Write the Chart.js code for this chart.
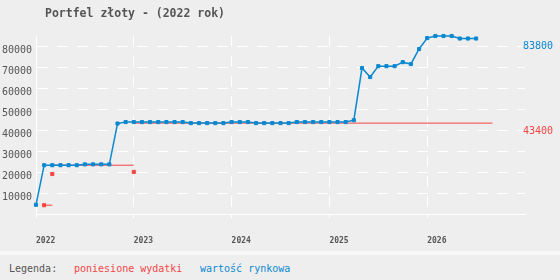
<!DOCTYPE html>
<html>
<head>
<meta charset="utf-8">
<script src="https://cdn.jsdelivr.net/npm/chart.js@4/dist/chart.umd.min.js"></script>
<style>
    body { margin: 0; background: #eeeeee; font-family: 'DejaVu Sans Mono', monospace; }
    #wrap { position: relative; width: 560px; height: 280px; overflow: hidden; }
    #title { position: absolute; left: 45px; top: 6px; font-size: 11.5px; font-weight: bold; color: #555; white-space: pre; }
    #chartBox { position: absolute; left: 0; top: 0; width: 560px; height: 251px; }
    #legend { position: absolute; left: 0; top: 251px; width: 560px; height: 25px; border-top: 4px solid #f7f7f7;
              font-size: 10px; line-height: 28px; color: #555; white-space: pre; }
    #legend span { position: absolute; top: 0; }
</style>
</head>
<body>
<div id="wrap">
    <div id="chartBox"><canvas id="chart" width="560" height="251"></canvas></div>
    <div id="title">Portfel złoty - (2022 rok)</div>
    <div id="legend">
        <span style="left:9px">Legenda:</span>
        <span style="left:74px;color:#f44545">poniesione wydatki</span>
        <span style="left:200px;color:#0a88d0">wartość rynkowa</span>
    </div>
</div>
<script>
// Data
const startRok = 2022;                 // first month of series = Jan 2022
const lata = ['2022', '2023', '2024', '2025', '2026'];
const yTicks = [10000, 20000, 30000, 40000, 50000, 60000, 70000, 80000];

// wartość rynkowa, monthly from 2022-01 to 2026-07
const wartoscRynkowa = [
    4400, 23300, 23300, 23300, 23300, 23300, 23700, 23700, 23700, 23700, 43200, 43900,   // 2022
    43900, 43900, 43900, 43900, 43900, 43900, 43900, 43400, 43400, 43400, 43400, 43400,  // 2023
    43900, 43900, 43900, 43400, 43400, 43400, 43400, 43400, 43900, 43900, 43900, 43900,  // 2024
    43900, 43900, 43900, 44800, 69700, 65400, 70600, 70600, 70600, 72500, 71600, 78800,  // 2025
    84000, 85000, 85000, 85000, 83800, 83800, 83800                                     // 2026
];

// poniesione wydatki: single payments and the running total after each one
const wydatkiDaty = ['2022-02', '2022-03', '2023-01'];
const wydatkiKwoty = [4200, 19100, 20100];
const wydatkiSuma = [4200, 23300, 43400];
const wydatkiKoniec = '2026-09';

const BLUE = '#0a88d0';
const RED = '#f44545';
const FONT = "'DejaVu Sans Mono', monospace";

function monthIndex(s) {
    const [y, m] = s.split('-').map(Number);
    return (y - startRok) * 12 + (m - 1);
}

const bluePoints = wartoscRynkowa.map((v, i) => ({ x: i, y: v }));

// step segments of the total, broken between payments
const redLine = [];
wydatkiDaty.forEach((d, i) => {
    const from = monthIndex(d);
    const to = i + 1 < wydatkiDaty.length ? monthIndex(wydatkiDaty[i + 1]) : monthIndex(wydatkiKoniec);
    redLine.push({ x: from, y: wydatkiSuma[i] });
    redLine.push({ x: to, y: wydatkiSuma[i] });
    redLine.push({ x: to, y: null });
});
const redMarks = wydatkiDaty.map((d, i) => ({ x: monthIndex(d), y: wydatkiKwoty[i] }));

// last values written at the right edge
const lastValueLabels = {
    id: 'lastValueLabels',
    afterDraw(chart) {
        const ctx = chart.ctx;
        const y = chart.scales.y;
        const x = chart.chartArea.right - 2;
        ctx.save();
        ctx.font = '10px ' + FONT;
        ctx.textAlign = 'left';
        ctx.textBaseline = 'middle';
        ctx.fillStyle = BLUE;
        const lastBlue = wartoscRynkowa[wartoscRynkowa.length - 1];
        ctx.fillText(String(lastBlue), x, y.getPixelForValue(lastBlue) + 8);
        ctx.fillStyle = RED;
        const lastRed = wydatkiSuma[wydatkiSuma.length - 1];
        ctx.fillText(String(lastRed), x, y.getPixelForValue(lastRed) + 8);
        ctx.restore();
    }
};

new Chart(document.getElementById('chart'), {
    type: 'line',
    data: {
        datasets: [
            {
                label: 'poniesione wydatki',
                data: redMarks,
                showLine: false,
                pointStyle: 'rect',
                pointRadius: 2.2,
                pointBorderWidth: 1,
                pointBackgroundColor: RED,
                pointBorderColor: RED,
                order: 0,
                clip: false
            },
            {
                label: 'wartość rynkowa',
                data: bluePoints,
                borderColor: BLUE,
                borderWidth: 1.5,
                pointStyle: 'rect',
                pointRadius: 2.2,
                pointBorderWidth: 1,
                pointBackgroundColor: BLUE,
                pointBorderColor: BLUE,
                tension: 0,
                order: 1,
                clip: false
            },
            {
                label: 'suma wydatków',
                data: redLine,
                borderColor: RED,
                borderWidth: 1,
                pointRadius: 0,
                spanGaps: false,
                order: 2,
                clip: false
            }
        ]
    },
    options: {
        responsive: false,
        animation: false,
        events: [],
        layout: { padding: { left: 0, right: 35, top: 36, bottom: 0 } },
        plugins: {
            legend: { display: false },
            tooltip: { enabled: false }
        },
        scales: {
            x: {
                type: 'linear',
                min: 0,
                max: 60,
                afterBuildTicks: function(scale) {
                    scale.ticks = lata.map((r, i) => ({ value: i * 12 }));
                },
                afterFit: function(scale) { scale.height = 37; },
                grid: {
                    color: '#ffffff',
                    lineWidth: 1,
                    tickLength: 4,
                    tickColor: '#ffffff'
                },
                border: { display: true, color: '#ffffff', width: 1, dash: [11, 9] },
                ticks: {
                    align: 'start',
                    padding: 18,
                    maxRotation: 0,
                    autoSkip: false,
                    color: '#555',
                    font: { family: FONT, size: 8, weight: 'bold' },
                    callback: function(value) { return lata[value / 12]; }
                }
            },
            y: {
                type: 'linear',
                min: 0,
                max: 85000,
                afterBuildTicks: function(scale) {
                    scale.ticks = yTicks.map(v => ({ value: v }));
                },
                afterFit: function(scale) { scale.width = 36; },
                grid: {
                    color: '#ffffff',
                    lineWidth: 1,
                    drawTicks: false
                },
                border: { display: true, color: '#ffffff', width: 1, dash: [11, 9] },
                ticks: {
                    padding: 4,
                    labelOffset: 4,
                    autoSkip: false,
                    color: '#555',
                    font: { family: FONT, size: 10 },
                    callback: function(value) { return String(value); }
                }
            }
        }
    },
    plugins: [lastValueLabels]
});
</script>
</body>
</html>
